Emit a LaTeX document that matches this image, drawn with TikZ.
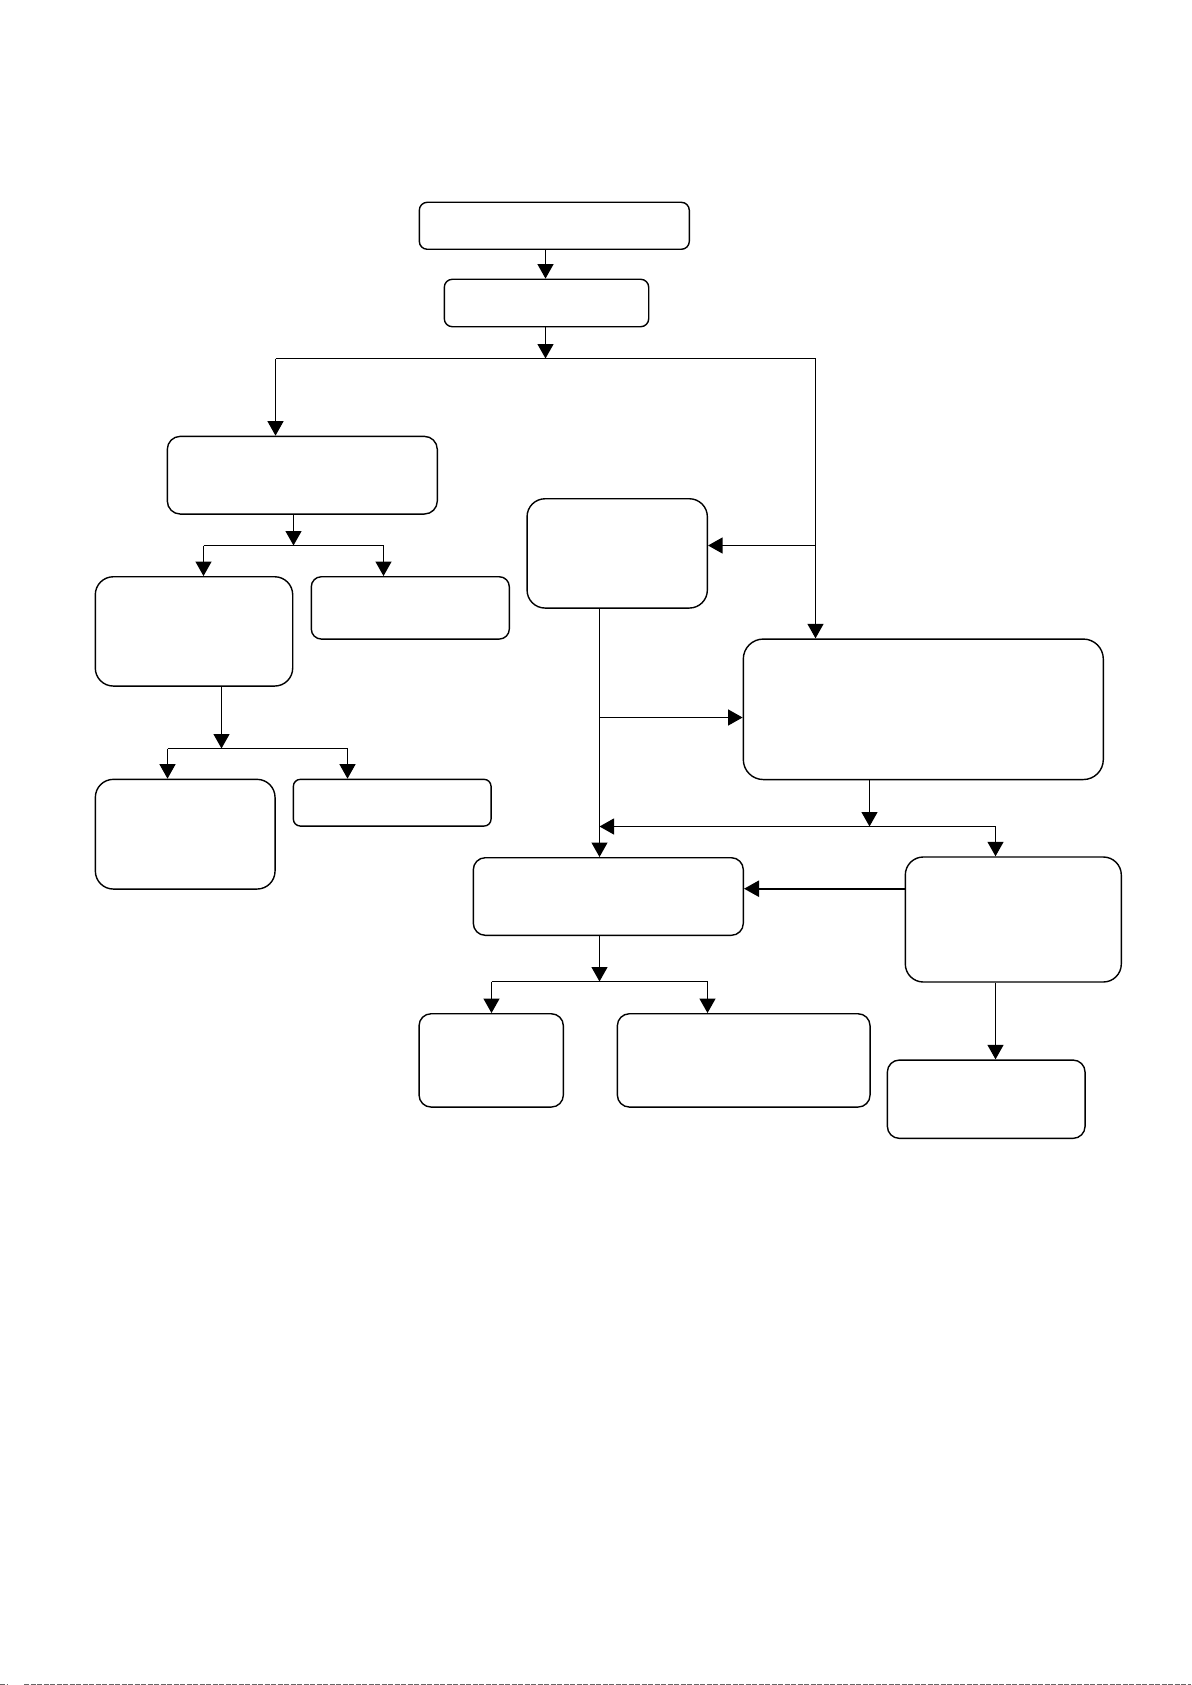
\documentclass[tikz,border=0pt]{standalone}
\usetikzlibrary{arrows.meta}
\begin{document}
\begin{tikzpicture}[x=1pt,y=-1pt,
  box/.style={draw=black, line width=1.4pt, rectangle, inner sep=0pt, fill=white},
  arr/.style={draw=black, line width=1.2pt, -{Triangle[length=14.5pt,width=16pt]}},
  ln/.style={draw=black, line width=1.2pt},
  thickarr/.style={draw=black, line width=2.3pt, -{Triangle[length=15pt,width=16pt]}}]
\useasboundingbox (0,0) rectangle (1191,1685);
\fill[white] (0,0) rectangle (1191,1685);

% boxes
\node[box, rounded corners=8pt,  minimum width=270pt,   minimum height=47pt]   (T1) at (554.3,225.8) {};
\node[box, rounded corners=8pt,  minimum width=204.4pt, minimum height=47.4pt] (T2) at (546.5,303) {};
\node[box, rounded corners=13pt, minimum width=270pt,   minimum height=77.7pt] (A)  at (302.3,475.2) {};
\node[box, rounded corners=18pt, minimum width=197.4pt, minimum height=109.3pt] (B) at (194,631.4) {};
\node[box, rounded corners=10pt, minimum width=198pt,   minimum height=62.3pt] (C)  at (410.3,607.9) {};
\node[box, rounded corners=18pt, minimum width=179.7pt, minimum height=109.7pt] (D) at (185.2,834.2) {};
\node[box, rounded corners=7pt,  minimum width=197.7pt, minimum height=46.7pt] (E)  at (392.2,802.7) {};
\node[box, rounded corners=18pt, minimum width=180.3pt, minimum height=109.3pt] (F) at (617.2,553.4) {};
\node[box, rounded corners=20pt, minimum width=360pt,   minimum height=140.5pt] (G) at (923.3,709.3) {};
\node[box, rounded corners=12pt, minimum width=270pt,   minimum height=77.6pt] (H)  at (608.3,896.5) {};
\node[box, rounded corners=18pt, minimum width=216pt,   minimum height=125pt]  (I)  at (1013.3,919.5) {};
\node[box, rounded corners=12pt, minimum width=197.7pt, minimum height=78.3pt] (J)  at (986.2,1099.2) {};
\node[box, rounded corners=12pt, minimum width=144.3pt, minimum height=93.3pt] (L)  at (491.2,1060.4) {};
\node[box, rounded corners=12pt, minimum width=252.7pt, minimum height=93.3pt] (K)  at (743.7,1060.4) {};

% junction coordinates
\coordinate (m1)   at (545.5,358.5);
\coordinate (busL) at (275.5,358.5);
\coordinate (busR) at (815.5,358.5);
\coordinate (fj)   at (815.5,545.5);
\coordinate (aj)   at (293.5,545.5);
\coordinate (abL)  at (203.5,545.5);
\coordinate (abR)  at (383.5,545.5);
\coordinate (bj)   at (221.5,748.5);
\coordinate (bbL)  at (167.5,748.5);
\coordinate (bbR)  at (347.5,748.5);
\coordinate (fs)   at (599.5,717.5);
\coordinate (gj)   at (869.5,826.5);
\coordinate (gR)   at (995.5,826.5);
\coordinate (gL)   at (599.5,826.5);
\coordinate (ih)   at (830,888.7);
\coordinate (hj)   at (599.5,981.5);
\coordinate (hbL)  at (491.5,981.5);
\coordinate (hbR)  at (707.5,981.5);

% top chain
\draw[arr] (T1.south -| m1) -- (T2.north -| m1);
\draw[arr] (T2.south -| m1) -- (m1);
\draw[ln] (busL) -- (busR);
\draw[arr] (busL) -- (A.north -| busL);
\draw[arr] (busR) -- (G.north -| busR);
\draw[arr] (fj) -- (F.east |- fj);

% left branch
\draw[arr] (A.south -| aj) -- (aj);
\draw[ln] (abL) -- (abR);
\draw[arr] (abL) -- (B.north -| abL);
\draw[arr] (abR) -- (C.north -| abR);
\draw[arr] (B.south -| bj) -- (bj);
\draw[ln] (bbL) -- (bbR);
\draw[arr] (bbL) -- (D.north -| bbL);
\draw[arr] (bbR) -- (E.north -| bbR);

% middle / right
\draw[arr] (F.south -| fs) -- (H.north -| fs);
\draw[arr] (fs) -- (G.west |- fs);
\draw[arr] (G.south -| gj) -- (gj);
\draw[arr] (gR) -- (gL);
\draw[arr] (gR) -- (I.north -| gR);
\draw[thickarr] (I.west |- ih) -- (H.east |- ih);
\draw[arr] (H.south -| hj) -- (hj);
\draw[ln] (hbL) -- (hbR);
\draw[arr] (hbL) -- (L.north -| hbL);
\draw[arr] (hbR) -- (K.north -| hbR);
\draw[arr] (I.south -| gR) -- (J.north -| gR);

% faint scan line at the bottom edge
\draw[black!60, line width=1pt, dash pattern=on 5pt off 1.5pt] (0,1684.3) -- (8,1684.3);
\draw[black!60, line width=1pt, dash pattern=on 5pt off 1.5pt] (24,1684.3) -- (1191,1684.3);
\end{tikzpicture}
\end{document}
